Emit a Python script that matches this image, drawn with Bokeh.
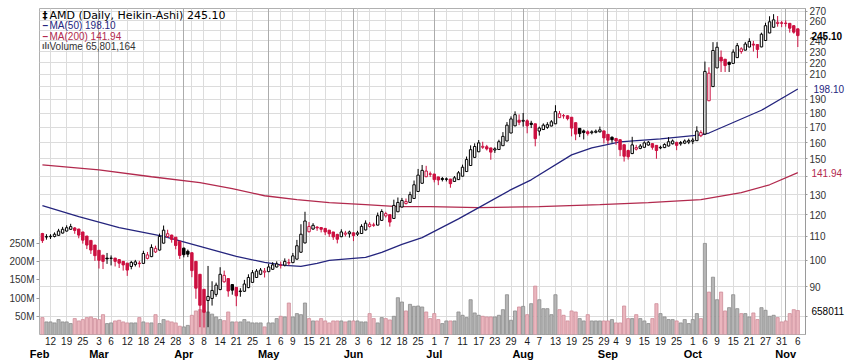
import math
import pandas as pd
from bokeh.plotting import figure
from bokeh.models import (Range1d, LinearAxis, LogAxis, LinearScale, FixedTicker, Grid, Label,
                          ColumnDataSource, BasicTickFormatter)
from bokeh.embed import file_html
from bokeh.resources import INLINE

# ---------------- data ----------------
holidays = ["2025-02-17", "2025-04-18", "2025-05-26", "2025-06-19", "2025-07-04", "2025-09-01"]
dates = [d.strftime("%Y-%m-%d") for d in pd.bdate_range("2025-02-10", "2025-11-06")
         if d.strftime("%Y-%m-%d") not in holidays]

ha_open = [
    111.3, 109.8, 109.9, 110.0, 110.5, 111.5, 112.4, 113.2, 113.8, 113.3,
    112.0, 110.2, 108.3, 106.3, 104.1, 102.1, 100.9, 100.8, 100.9, 100.3,
    99.6, 98.9, 97.6, 98.4, 98.9, 98.8, 100.8, 101.5, 103.4, 104.2,
    107.1, 110.0, 110.6, 109.7, 107.9, 105.0, 103.7, 103.1, 99.6, 94.6,
    89.1, 85.2, 85.9, 87.3, 89.0, 91.8, 93.0, 90.8, 89.8, 88.3,
    88.4, 89.7, 91.6, 93.4, 94.6, 95.4, 95.6, 96.5, 97.4, 98.0,
    98.1, 98.9, 99.1, 100.5, 103.3, 107.2, 112.1, 113.3, 114.2, 114.0,
    113.6, 112.8, 112.0, 110.9, 109.9, 111.0, 111.2, 111.6, 111.0, 111.3,
    112.9, 114.5, 115.0, 115.1, 117.3, 119.4, 120.0, 118.2, 121.4, 123.7,
    125.4, 126.0, 128.0, 131.6, 136.0, 139.6, 141.2, 141.1, 139.5, 138.6,
    138.4, 138.3, 137.0, 138.0, 139.9, 142.5, 146.0, 150.8, 154.2, 157.0,
    157.3, 156.6, 155.3, 155.6, 158.0, 161.0, 166.2, 171.0, 174.9, 174.2,
    174.5, 172.8, 172.4, 167.5, 168.5, 170.0, 170.9, 172.4, 176.7, 178.1,
    178.0, 177.0, 173.2, 169.3, 167.6, 167.0, 166.4, 166.7, 167.0, 167.6,
    165.3, 163.4, 162.6, 161.8, 158.6, 155.0, 153.1, 155.8, 156.3, 157.0,
    158.4, 159.3, 158.2, 156.6, 156.8, 157.8, 159.2, 160.1, 159.2, 159.6,
    160.3, 160.8, 161.2, 164.4, 165.5, 189.0, 200.0, 215.5, 224.8, 223.1,
    220.3, 219.4, 224.5, 230.0, 231.3, 234.2, 236.9, 236.5, 234.3, 240.4,
    247.7, 253.4, 257.2, 257.9, 257.7, 257.4, 255.0, 251.8]

ha_close = [
    108.2, 109.9, 110.1, 111.0, 112.4, 113.2, 113.9, 114.4, 112.7, 110.6,
    108.4, 106.3, 104.2, 101.9, 100.0, 99.6, 100.6, 100.9, 99.6, 98.9,
    98.2, 96.2, 99.2, 99.4, 98.7, 102.8, 102.2, 105.3, 104.9, 110.0,
    112.8, 111.2, 108.7, 106.1, 102.0, 102.3, 102.5, 96.0, 89.5, 83.6,
    81.3, 86.6, 88.7, 90.6, 94.6, 94.2, 88.5, 88.8, 86.8, 88.5,
    91.0, 93.4, 95.2, 95.8, 96.2, 95.8, 97.4, 98.2, 98.6, 98.1,
    99.6, 99.2, 101.8, 106.0, 111.0, 117.0, 114.5, 115.0, 113.8, 113.2,
    112.0, 111.2, 109.8, 108.8, 112.0, 111.5, 112.0, 110.4, 111.6, 114.5,
    116.0, 115.5, 115.2, 119.5, 121.5, 120.5, 116.5, 124.5, 126.0, 127.0,
    126.5, 130.0, 135.2, 140.5, 143.2, 142.8, 141.0, 138.0, 137.8, 138.1,
    138.2, 135.8, 139.0, 141.8, 145.0, 149.5, 155.5, 157.5, 159.8, 157.6,
    156.0, 154.0, 156.0, 160.5, 164.0, 171.5, 175.8, 178.8, 173.5, 174.8,
    171.0, 172.0, 162.5, 169.5, 171.5, 171.8, 173.8, 181.0, 179.5, 178.0,
    176.0, 169.5, 165.5, 165.8, 166.5, 165.8, 167.0, 167.4, 168.3, 163.0,
    161.5, 161.8, 161.0, 155.5, 151.5, 151.2, 158.5, 156.8, 157.8, 159.8,
    160.2, 157.0, 155.0, 157.0, 158.8, 160.5, 161.0, 158.2, 160.0, 161.0,
    161.2, 161.6, 167.5, 166.5, 212.5, 211.0, 231.0, 234.0, 221.5, 217.5,
    218.5, 229.5, 235.5, 232.5, 237.0, 239.5, 236.0, 232.0, 246.5, 255.0,
    259.0, 261.0, 258.5, 257.5, 257.2, 252.5, 248.5, 245.1]

ha_high = [
    111.6, 111.0, 111.0, 111.8, 113.4, 114.3, 115.0, 115.7, 114.2, 113.4,
    112.0, 110.2, 108.3, 106.3, 104.1, 102.1, 103.0, 102.0, 101.0, 100.4,
    99.7, 98.9, 99.8, 100.2, 99.8, 103.9, 103.4, 106.6, 106.0, 111.3,
    114.9, 113.0, 110.8, 109.7, 107.9, 105.2, 104.4, 103.1, 99.6, 94.6,
    89.1, 97.8, 92.0, 91.5, 97.3, 96.0, 93.1, 90.9, 89.9, 89.5,
    92.5, 94.6, 96.2, 96.6, 97.0, 97.0, 98.6, 99.3, 99.6, 99.5,
    100.8, 100.6, 103.0, 108.5, 115.5, 121.4, 116.5, 116.0, 114.6, 114.2,
    113.7, 112.9, 112.0, 111.2, 113.2, 112.5, 112.6, 111.8, 112.5, 115.5,
    117.3, 116.5, 116.2, 121.0, 122.6, 121.4, 120.1, 127.4, 128.5, 128.3,
    128.0, 131.5, 137.5, 144.0, 146.3, 145.8, 142.5, 141.2, 139.6, 139.5,
    139.2, 138.4, 140.0, 142.8, 146.5, 151.3, 158.2, 159.5, 161.6, 160.5,
    158.5, 156.7, 157.0, 161.8, 166.8, 173.6, 177.6, 181.2, 179.0, 180.0,
    175.5, 174.5, 172.5, 170.5, 172.7, 173.5, 175.0, 185.7, 181.5, 179.3,
    178.3, 177.1, 173.3, 169.4, 168.5, 168.0, 168.0, 168.5, 170.5, 167.7,
    165.4, 164.0, 163.0, 162.0, 158.7, 155.5, 163.7, 158.5, 159.0, 160.8,
    161.0, 159.5, 158.3, 158.0, 159.5, 163.5, 162.0, 160.5, 161.0, 162.0,
    162.5, 163.0, 170.7, 168.0, 221.0, 216.0, 238.8, 238.8, 231.0, 223.2,
    221.0, 232.0, 238.0, 234.0, 239.0, 242.5, 240.0, 236.6, 248.0, 258.0,
    264.8, 267.0, 265.0, 260.0, 260.5, 257.5, 255.5, 252.0]

ha_low = [
    107.2, 108.6, 108.9, 109.6, 110.3, 111.3, 112.2, 113.0, 111.2, 109.2,
    106.9, 104.6, 102.6, 99.8, 96.8, 96.6, 98.6, 98.0, 97.6, 97.0,
    96.0, 94.0, 96.5, 97.6, 97.2, 98.6, 100.4, 101.3, 103.0, 104.0,
    107.0, 109.4, 107.3, 104.5, 100.6, 101.2, 101.3, 93.5, 85.8, 76.6,
    76.5, 76.6, 83.5, 86.5, 88.8, 91.5, 86.5, 87.2, 83.3, 86.5,
    88.2, 89.5, 91.4, 93.2, 94.3, 93.4, 95.4, 96.3, 97.2, 96.8,
    97.6, 98.0, 98.9, 100.3, 103.1, 107.0, 111.8, 113.0, 112.5, 111.8,
    110.6, 109.8, 108.5, 107.0, 109.7, 110.0, 109.5, 108.0, 110.2, 111.1,
    112.7, 114.0, 114.3, 115.0, 117.1, 118.6, 114.4, 118.0, 121.2, 123.5,
    125.0, 125.8, 127.8, 131.4, 135.8, 139.4, 139.5, 136.5, 135.0, 137.0,
    137.0, 133.6, 136.8, 137.8, 139.7, 142.3, 145.8, 150.6, 154.0, 156.0,
    155.0, 149.4, 153.5, 155.4, 157.8, 160.8, 166.0, 170.8, 171.5, 170.5,
    166.0, 169.5, 157.6, 164.5, 168.3, 169.0, 170.7, 172.2, 176.5, 176.0,
    174.8, 164.0, 161.5, 163.5, 162.0, 164.5, 165.3, 166.0, 166.5, 159.5,
    159.0, 159.8, 158.5, 151.5, 148.3, 149.5, 152.8, 155.0, 155.8, 156.8,
    158.0, 155.5, 150.0, 155.8, 156.5, 157.5, 158.8, 155.2, 158.0, 159.0,
    159.0, 159.0, 161.0, 163.5, 165.3, 188.8, 199.8, 215.3, 212.0, 212.0,
    212.0, 219.2, 224.3, 228.0, 231.0, 234.0, 230.0, 224.0, 234.0, 240.2,
    247.5, 253.2, 254.0, 253.5, 254.0, 248.0, 247.0, 234.2]

volume_m = [
    46.4, 34.6, 34.6, 31.9, 41.0, 34.6, 34.6, 30.0, 43.7, 37.3,
    41.0, 46.4, 48.3, 43.7, 41.0, 54.6, 30.0, 31.9, 37.3, 39.2,
    34.6, 31.9, 31.9, 31.9, 46.4, 34.6, 31.9, 31.9, 54.6, 30.0,
    41.0, 37.3, 34.6, 31.9, 22.8, 20.9, 25.0, 52.8, 64.7, 68.3,
    66.5, 62.0, 56.0, 48.3, 41.0, 38.0, 61.9, 34.6, 34.6, 34.6,
    41.0, 34.6, 31.9, 31.9, 31.9, 20.9, 31.9, 31.9, 43.7, 50.1,
    48.3, 86.5, 48.3, 57.4, 54.6, 86.5, 43.7, 37.3, 37.3, 43.7,
    37.3, 31.9, 37.3, 37.3, 37.3, 34.6, 37.3, 37.3, 37.3, 34.6,
    34.6, 57.4, 43.7, 31.9, 46.4, 43.7, 40.0, 50.0, 101.1, 89.3,
    64.7, 82.9, 77.4, 78.3, 75.6, 61.9, 43.7, 57.4, 41.0, 30.0,
    37.3, 37.3, 37.3, 61.9, 52.8, 46.4, 95.6, 59.2, 52.8, 50.1,
    48.3, 48.3, 48.3, 52.8, 68.3, 109.3, 39.2, 64.7, 75.6, 77.4,
    54.6, 84.7, 133.0, 95.6, 71.0, 71.0, 54.6, 109.3, 68.3, 52.8,
    37.3, 64.7, 61.9, 43.7, 37.3, 54.6, 37.3, 37.3, 37.3, 37.3,
    37.3, 41.0, 31.9, 31.9, 78.3, 43.7, 43.7, 54.6, 43.7, 37.3,
    30.0, 43.7, 84.7, 57.4, 48.3, 41.0, 41.0, 37.3, 31.9, 41.0,
    30.0, 41.0, 57.4, 43.7, 250.4, 116.6, 157.5, 95.6, 116.6, 64.7,
    73.8, 109.3, 71.0, 57.4, 57.4, 48.3, 59.2, 41.0, 73.8, 66.5,
    50.1, 52.8, 46.4, 34.6, 37.3, 57.4, 68.3, 65.8]

ma50_idx = [0, 9, 19, 30, 39, 48, 55, 60, 64, 68, 71, 80, 84, 89, 94, 103, 116, 121,
            131, 136, 143, 153, 163, 165, 178, 187]
ma50_val = [124.4, 119.1, 114.0, 110.0, 105.7, 101.6, 99.2, 98.0, 97.6, 98.8, 100.0, 101.2,
            103.2, 106.6, 109.5, 118.0, 132.6, 137.9, 152.3, 156.6, 160.4, 162.3, 164.9,
            166.2, 182.0, 198.1]
ma200_idx = [0, 14, 27, 39, 47, 55, 63, 71, 80, 88, 96, 108, 123, 138, 150, 163, 173, 180, 187]
ma200_val = [146.4, 143.5, 139.6, 136.3, 133.1, 129.4, 127.4, 125.9, 124.9, 123.9, 123.9,
             123.4, 123.9, 124.9, 125.9, 127.4, 131.0, 135.2, 141.94]

tick_dates = ["2025-02-12", "2025-02-19", "2025-02-25", "2025-03-03", "2025-03-06",
              "2025-03-12", "2025-03-18", "2025-03-24", "2025-03-28", "2025-04-03",
              "2025-04-08", "2025-04-14", "2025-04-21", "2025-04-25", "2025-05-01",
              "2025-05-06", "2025-05-09", "2025-05-15", "2025-05-21", "2025-05-28",
              "2025-06-03", "2025-06-06", "2025-06-12", "2025-06-18", "2025-06-25",
              "2025-07-01", "2025-07-07", "2025-07-11", "2025-07-17", "2025-07-23",
              "2025-07-29", "2025-08-04", "2025-08-07", "2025-08-13", "2025-08-19",
              "2025-08-25", "2025-08-29", "2025-09-04", "2025-09-09", "2025-09-15",
              "2025-09-19", "2025-09-25", "2025-10-01", "2025-10-06", "2025-10-09",
              "2025-10-15", "2025-10-21", "2025-10-27", "2025-10-31", "2025-11-06"]
month_keys = ["2025-02", "2025-03", "2025-04", "2025-05", "2025-06", "2025-07",
              "2025-08", "2025-09", "2025-10", "2025-11"]
month_names = ["Feb", "Mar", "Apr", "May", "Jun", "Jul", "Aug", "Sep", "Oct", "Nov"]
price_ticks = [80, 90, 100, 110, 120, 130, 140, 150, 160, 170, 180, 190, 200,
               210, 220, 230, 240, 250, 260, 270]
vol_ticks = [50, 100, 150, 200, 250]

last_close = "245.10"
ma50_last = "198.10"
ma200_last = "141.94"
last_volume = "65,801,164"
volume_tag = "658011"

# ---------------- style ----------------
RED = "#cc1040"
PINK_FILL, PINK_LINE = "#eab6be", "#cf8d99"
GRAY_FILL, GRAY_LINE = "#b6b6b6", "#8c8c8c"
MA50_C, MA200_C = "#25257e", "#b22a4e"
GRID_C, MONTH_C = "#dcdcdc", "#acacac"
AX_FONT = "Liberation Sans"

n = len(dates)
idx = list(range(n))
prev = [ha_open[0]] + ha_close[:-1]
ccol, bfill, vfill, vline, btop, bbot = [], [], [], [], [], []
for i in idx:
    up = ha_close[i] >= prev[i]
    col = "#000000" if up else RED
    ccol.append(col)
    bfill.append(col if ha_close[i] < ha_open[i] else "#ffffff")
    vfill.append(GRAY_FILL if up else PINK_FILL)
    vline.append(GRAY_LINE if up else PINK_LINE)
    btop.append(max(ha_open[i], ha_close[i]))
    bbot.append(min(ha_open[i], ha_close[i]))

src = ColumnDataSource(dict(x=idx, h=ha_high, l=ha_low, top=btop, bot=bbot, col=ccol,
                            fill=bfill, vol=volume_m, vfill=vfill, vline=vline))

X0, X1 = -0.72, 188.9
Y0, Y1 = 74.4, 273.1
FRAME_W = 766
p = figure(width=854, height=362, x_range=Range1d(X0, X1), y_range=Range1d(Y0, Y1),
           y_axis_type="log", y_axis_location="right", output_backend="svg",
           toolbar_location=None, min_border_left=39, min_border_right=49,
           min_border_top=8, min_border_bottom=0, background_fill_color="white",
           border_fill_color="white", outline_line_color="#b0b0b0")

p.extra_y_ranges = {"vol": Range1d(0, 896)}
p.extra_y_scales = {"vol": LinearScale()}

AXIS_PROPS = LinearAxis.properties()
HAS_LABEL_BOX = ("major_label_background_fill_color" in AXIS_PROPS and
                 "major_label_border_line_color" in AXIS_PROPS)


def quiet(a):
    a.major_tick_out = 0
    a.major_tick_in = 0
    a.minor_tick_out = 0
    a.minor_tick_in = 0
    a.axis_line_color = None
    a.major_tick_line_color = None
    a.minor_tick_line_color = None


# right price axis
ax = p.yaxis[0]
price_ticker = FixedTicker(ticks=price_ticks)
ax.ticker = price_ticker
ax.formatter = BasicTickFormatter()
if not HAS_LABEL_BOX:
    # these tick labels sit under the value tags in the original
    ax.major_label_overrides = {250: "", 200: "", 140: "", 80: ""}
ax.major_label_text_font = AX_FONT
ax.major_label_text_font_size = "10px"
ax.major_label_text_color = "#333333"
ax.major_tick_out = 2
ax.major_tick_in = 0
ax.minor_tick_out = 0
ax.minor_tick_in = 0
ax.major_label_standoff = 2
ax.axis_line_color = "#9a9a9a"
ax.major_tick_line_color = "#9a9a9a"
p.ygrid[0].ticker = price_ticker
p.ygrid[0].grid_line_color = GRID_C

# value tags: extra right axes, each pulled back next to the price axis
tags = [(LogAxis, ha_close[-1], last_close, "#000000", "bold", "default", -18),
        (LogAxis, ma50_val[-1], ma50_last, MA50_C, "normal", "default", -32),
        (LogAxis, ma200_val[-1], ma200_last, MA200_C, "normal", "default", -36),
        (LinearAxis, volume_m[-1], volume_tag, "#000000", "normal", "vol", -36)]
for cls, val, txt, colr, style, rng, so in tags:
    t = cls(y_range_name=rng, ticker=FixedTicker(ticks=[val]),
            major_label_overrides={val: txt})
    quiet(t)
    t.major_label_text_font = AX_FONT
    t.major_label_text_font_size = "10px"
    t.major_label_text_font_style = style
    t.major_label_text_color = colr
    t.major_label_standoff = so
    if HAS_LABEL_BOX:
        t.major_label_background_fill_color = "white"
        t.major_label_border_line_color = colr
    p.add_layout(t, "right")

# left volume axis
vax = LinearAxis(y_range_name="vol", ticker=FixedTicker(ticks=vol_ticks),
                 major_label_overrides={v: f"{v}M" for v in vol_ticks})
vax.major_label_text_font = AX_FONT
vax.major_label_text_font_size = "10px"
vax.major_label_text_color = "#333333"
vax.major_tick_out = 3
vax.major_tick_in = 0
vax.minor_tick_out = 0
vax.minor_tick_in = 0
vax.major_label_standoff = 2
vax.axis_line_color = None
vax.major_tick_line_color = "#9a9a9a"
p.add_layout(vax, "left")

# bottom day axis
day_idx = [dates.index(d) for d in tick_dates]
day_ticker = FixedTicker(ticks=day_idx)
xax = p.xaxis[0]
xax.ticker = day_ticker
xax.major_label_overrides = {i: str(int(d[-2:])) for i, d in zip(day_idx, tick_dates)}
xax.major_label_text_font = AX_FONT
xax.major_label_text_font_size = "10px"
xax.major_label_text_color = "#1a1a1a"
quiet(xax)
xax.major_label_standoff = 2
p.xgrid[0].ticker = day_ticker
p.xgrid[0].grid_line_color = GRID_C

# month axis
first_idx = [next(i for i, d in enumerate(dates) if d.startswith(k)) for k in month_keys]
month_pos = [(X0 + 0.02) if dates[fi][-2:] > "07" and fi == 0 else fi for fi in first_idx]
max_ = LinearAxis(ticker=FixedTicker(ticks=month_pos),
                  major_label_overrides={pos: nm for pos, nm in zip(month_pos, month_names)})
max_.major_label_text_font = AX_FONT
max_.major_label_text_font_size = "11px"
max_.major_label_text_font_style = "bold"
max_.major_label_text_color = "#000000"
quiet(max_)
max_.major_label_standoff = 0
p.add_layout(max_, "below")

month_grid = Grid(dimension=0, ticker=FixedTicker(ticks=[fi for fi in first_idx if fi > 0]),
                  grid_line_color=MONTH_C)
p.add_layout(month_grid)

# volume bars
p.vbar(x="x", top="vol", bottom=0, width=0.78, y_range_name="vol", fill_color="vfill",
       line_color="vline", line_width=0.8, source=src)

# moving averages
p.line(ma200_idx, ma200_val, line_color=MA200_C, line_width=1.3)
p.line(ma50_idx, ma50_val, line_color=MA50_C, line_width=1.3)

# Heikin-Ashi candles
p.segment(x0="x", y0="l", x1="x", y1="h", line_color="col", line_width=1, source=src)
p.vbar(x="x", top="top", bottom="bot", width=0.6, fill_color="fill", line_color="col",
       line_width=1, source=src)


# ------------- legend texts -------------
def xd(px):
    return (px - 39) * (X1 - X0) / FRAME_W + X0


def yd(py):
    return math.exp(math.log(Y1) - (py - 8) * (math.log(Y1) - math.log(Y0)) / 328)


def text(t, x, y, color, font=AX_FONT, size="10px", style="normal"):
    p.add_layout(Label(x=x, y=y, text=t, text_color=color, text_font=font,
                       text_font_size=size, text_font_style=style,
                       text_baseline="middle", text_align="left"))


text("‡", xd(42), yd(15), "#000000", font="DejaVu Sans", size="10px", style="bold")
text(f"AMD (Daily, Heikin-Ashi) {last_close}", xd(49), yd(15), "#000000",
     font="DejaVu Sans", size="11px")
text("–", xd(42), yd(25.5), MA50_C, style="bold")
text(f"MA(50) {ma50_last}", xd(49), yd(25.5), MA50_C)
text("–", xd(42), yd(36), MA200_C, style="bold")
text(f"MA(200) {ma200_last}", xd(49), yd(36), MA200_C)
text("ılı", xd(41.5), yd(46), "#555555", style="bold", size="9px")
text(f"Volume {last_volume}", xd(49), yd(46), "#333333")

open("out.html", "w").write(file_html(p, INLINE))
